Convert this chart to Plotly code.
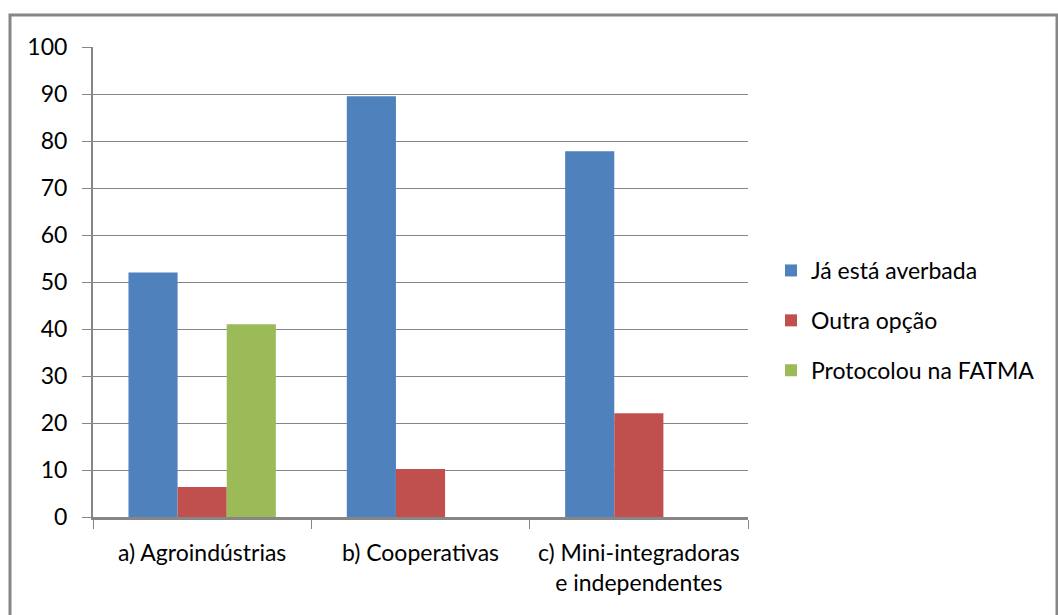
import plotly.graph_objects as go

# Categories and series values (%)
categories = ["a) Agroindústrias", "b) Cooperativas", "c) Mini-integradoras<br>e independentes"]
series_names = ["Já está averbada", "Outra opção", "Protocolou na FATMA"]
ja_averbada = [52.0, 89.5, 77.8]
outra_opcao = [6.4, 10.2, 22.1]
protocolou_fatma = [41.0, None, None]
y_ticks = [0, 10, 20, 30, 40, 50, 60, 70, 80, 90, 100]

colors = ["#4F81BD", "#C0504D", "#9BBB59"]
values = [ja_averbada, outra_opcao, protocolou_fatma]

FONT = "Lato, 'Open Sans', sans-serif"
FS = 23
GRID = "#868686"

fig = go.Figure()
for i, (name, vals) in enumerate(zip(series_names, values)):
    fig.add_trace(go.Bar(
        x=categories, y=vals, name=name,
        marker=dict(color=colors[i], line=dict(width=0)),
        legendgroup=f"g{i}",
    ))

W, H = 1058, 615
L, R, T, B = 93, 1058 - 748, 47, 615 - 517
pw, ph = W - L - R, H - T - B

fig.update_layout(
    width=W, height=H,
    margin=dict(l=L, r=R, t=T, b=B, autoexpand=False),
    paper_bgcolor="white", plot_bgcolor="white",
    barmode="group", bargap=0.325, bargroupgap=0,
    font=dict(family=FONT, size=FS, color="#000000"),
    showlegend=True,
    legend=dict(
        x=(771 - L) / pw, y=(517 - 249) / ph, xanchor="left", yanchor="top",
        font=dict(family=FONT, size=FS, color="#000000"),
        traceorder="grouped", tracegroupgap=17,
        itemwidth=30, bgcolor="rgba(0,0,0,0)",
    ),
    xaxis=dict(
        type="category", tickson="boundaries", tickangle=0, automargin=False,
        ticks="outside", ticklen=9, tickwidth=1, tickcolor=GRID,
        showline=True, linecolor=GRID, linewidth=3,
        showgrid=False, ticklabelstandoff=13,
        tickfont=dict(family=FONT, size=FS, color="#000000"),
    ),
    yaxis=dict(
        range=[0, 100], tickvals=y_ticks, ticktext=[str(v) for v in y_ticks],
        automargin=False,
        ticks="outside", ticklen=9, tickwidth=1, tickcolor=GRID,
        showline=True, linecolor=GRID, linewidth=2,
        showgrid=True, gridcolor=GRID, gridwidth=1,
        zeroline=False, ticklabelstandoff=10,
        tickfont=dict(family=FONT, size=FS, color="#000000"),
    ),
)

# Chart-area frame
fig.add_shape(
    type="rect", xref="paper", yref="paper",
    x0=(10 - L) / pw, x1=(1057 - L) / pw,
    y0=(517 - 640) / ph, y1=(517 - 15) / ph,
    line=dict(color=GRID, width=3), fillcolor="rgba(0,0,0,0)", layer="below",
)

fig.write_html("out.html")
